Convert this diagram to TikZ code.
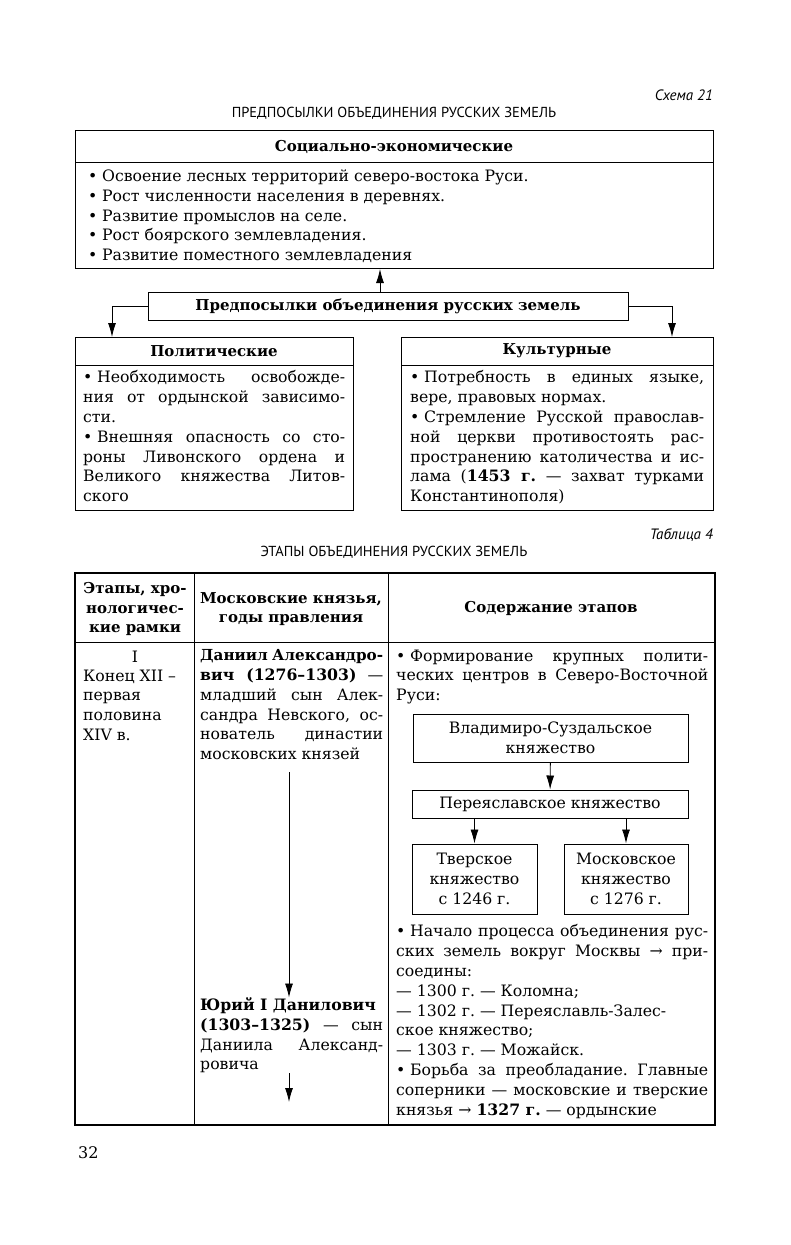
\documentclass[tikz,border=0pt]{standalone}
\usepackage{fontspec}
\setmainfont{DejaVu Serif}
\newfontfamily\capsfont{PT Sans}
\usetikzlibrary{arrows.meta,positioning}
\frenchspacing
\newcommand{\bul}{•\hspace{0.3em}}

\begin{document}
\begin{tikzpicture}[x=1pt, y=-1pt,
    capslbl/.style={font=\capsfont\fontsize{14.5}{16}\selectfont, inner sep=0pt},
    schemelbl/.style={font=\capsfont\itshape\fontsize{15}{16}\selectfont, anchor=east, inner sep=0pt},
    frame/.style={draw, line width=1pt},
    headlbl/.style={font=\bfseries\fontsize{15}{19.6}\selectfont, inner sep=0pt, align=center},
    bodytxt/.style={font=\fontsize{15.7}{19.8}\selectfont, align=justify, anchor=north west, inner sep=0pt},
    listtxt/.style={font=\fontsize{15.7}{19.8}\selectfont, align=left, anchor=north west, inner sep=0pt},
    princbox/.style={draw, line width=1pt, font=\fontsize{15.7}{19.8}\selectfont, align=center, inner sep=0pt},
    arr/.style={-{Latex[length=14pt,width=8pt]}, line width=0.9pt},
    tblrule/.style={line width=1.3pt},
    cellrule/.style={line width=0.9pt}
  ]
  \useasboundingbox (0,0) rectangle (791,1245);

  % Scheme 21
  \node[schemelbl] (scheme) at (713,95) {Схема 21};
  \node[capslbl] (schemetitle) at (394,113) {ПРЕДПОСЫЛКИ ОБЪЕДИНЕНИЯ РУССКИХ ЗЕМЕЛЬ};

  \node[frame, minimum width=638, minimum height=138, anchor=north west] (socbox) at (75,130) {};
  \draw[line width=1pt] (75,162) -- (713,162);
  \node[headlbl] (sochead) at (394,147) {Социально-экономические};
  \node[listtxt] (soctext) at (88,169.5) {%
    \bul Освоение лесных территорий северо-востока Руси.\\
    \bul Рост численности населения в деревнях.\\
    \bul Развитие промыслов на селе.\\
    \bul Рост боярского землевладения.\\
    \bul Развитие поместного землевладения};

  \node[frame, headlbl, minimum width=480, minimum height=28] (prereq) at (388,306)
    {Предпосылки объединения русских земель};

  \node[frame, minimum width=278, minimum height=173, anchor=north west] (polbox) at (75,337) {};
  \draw[line width=1pt] (75,365) -- (353,365);
  \node[headlbl] (polhead) at (214,351) {Политические};
  \node[bodytxt, text width=262] (poltext) at (83,370.5) {%
    \bul Необходимость освобожде-\linebreak
    ния от ордынской зависимо-\linebreak
    сти.\\
    \bul Внешняя опасность со сто-\linebreak
    роны Ливонского ордена и\linebreak
    Великого княжества Литов-\linebreak
    ского};

  \node[frame, minimum width=312, minimum height=173, anchor=north west] (kulbox) at (401,337) {};
  \draw[line width=1pt] (401,365) -- (713,365);
  \node[headlbl] (kulhead) at (557,351) {Культурные};
  \node[bodytxt, text width=294] (kultext) at (410,370.5) {%
    \bul Потребность в единых языке,\linebreak
    вере, правовых нормах.\\
    \bul Стремление Русской православ-\linebreak
    ной церкви противостоять рас-\linebreak
    пространению католичества и ис-\linebreak
    лама (\textbf{1453 г.} — захват турками\linebreak
    Константинополя)};

  \draw[arr] ([xshift=-8pt]prereq.north) -- ([xshift=-8pt]prereq.north |- socbox.south);
  \draw[arr] (prereq.west) -| ([xshift=37pt]polbox.north west);
  \draw[arr] (prereq.east) -| ([xshift=-42pt]kulbox.north east);

  % Table 4
  \node[schemelbl] (tablenum) at (713,535) {Таблица 4};
  \node[capslbl] (tabletitle) at (394,552) {ЭТАПЫ ОБЪЕДИНЕНИЯ РУССКИХ ЗЕМЕЛЬ};

  \draw[tblrule] (75,573) rectangle (715,1125);
  \foreach \cx in {194,388}
    \draw[cellrule] (\cx,573) -- (\cx,1125);
  \draw[cellrule] (75,642) -- (715,642);

  \node[headlbl] (hstage) at (135,609) {Этапы, хро-\\нологичес-\\кие рамки};
  \node[headlbl] (hprince) at (291,609) {Московские князья,\\годы правления};
  \node[headlbl] (hcontent) at (551,608) {Содержание этапов};

  \node[listtxt, anchor=center] (stagenum) at (135,657) {I};
  \node[listtxt] (stagedate) at (83,669.5) {Конец XII –\\первая\\половина\\XIV в.};

  \node[bodytxt, text width=183] (dan) at (200,649.5) {%
    \makebox[\linewidth][s]{\fontsize{15.2}{19.8}\selectfont\textbf{Даниил Александро-}}\\
    \textbf{вич (1276–1303)} —\linebreak
    младший сын Алек-\linebreak
    сандра Невского, ос-\linebreak
    нователь династии\linebreak
    московских князей};
  \node[bodytxt, text width=183] (yuri) at (200,997.5) {%
    \textbf{Юрий I Данилович}\\
    \textbf{(1303–1325)} — сын\linebreak
    Даниила Александ-\linebreak
    ровича};
  \coordinate (yurinext) at (289,1102);
  \draw[arr, shorten <=12pt] (dan.south -| 289,0) -- (yuri.north -| 289,0);
  \draw[arr] (yuri.south -| yurinext) -- (yurinext);

  \node[bodytxt, text width=312] (form) at (396,649.5) {%
    \bul Формирование крупных полити-\linebreak
    ческих центров в Северо-Восточной\linebreak
    Руси:};

  \node[princbox, minimum width=275, minimum height=48] (vlad) at (550.5,738)
    {Владимиро-Суздальское\\княжество};
  \node[princbox, minimum width=276, minimum height=28] (per) at (550,804)
    {Переяславское княжество};
  \node[princbox, minimum width=125, minimum height=70] (tver) at (474.5,879)
    {Тверское\\княжество\\с 1246 г.};
  \node[princbox, minimum width=124, minimum height=70] (mosk) at (626,879)
    {Московское\\княжество\\с 1276 г.};
  \draw[arr] (vlad) -- (per);
  \foreach \b in {tver,mosk}
    \draw[arr] (\b.north |- per.south) -- (\b);

  \node[bodytxt, text width=312] (unite) at (396,924.5) {%
    \bul Начало процесса объединения рус-\linebreak
    ских земель вокруг Москвы → при-\linebreak
    соедины:\\
    — 1300 г. — Коломна;\\
    — 1302 г. — Переяславль-Залес-\\
    ское княжество;\\
    — 1303 г. — Можайск.\\
    \bul Борьба за преобладание. Главные\linebreak
    соперники — московские и тверские\linebreak
    князья → \textbf{1327 г.} — ордынские};

  \node[listtxt, anchor=base west, font=\fontsize{16}{18}\selectfont] (pagenum) at (78,1158) {32};
\end{tikzpicture}
\end{document}
